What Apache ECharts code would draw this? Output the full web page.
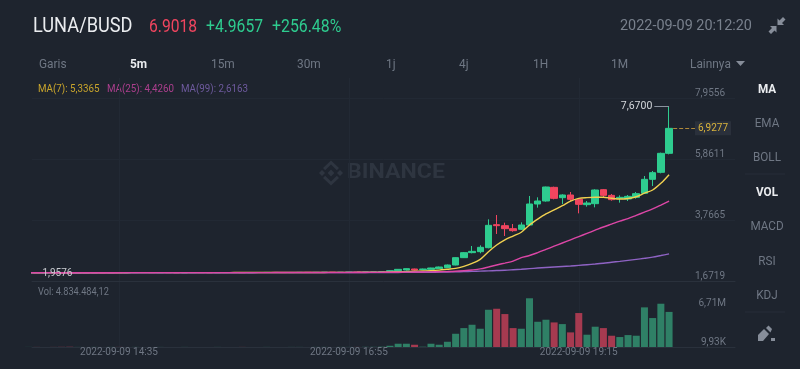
<!DOCTYPE html>
<html>
<head>
<meta charset="utf-8">
<style>
  html, body { margin: 0; padding: 0; background: #1e242e; }
  #chart { width: 800px; height: 369px; }
</style>
<script src="https://cdn.jsdelivr.net/npm/echarts@6/dist/echarts.min.js"></script>
</head>
<body>
<div id="chart"></div>
<script>
// 5 minute candles, 13:40 .. 20:10
var times = ['13:40','13:45','13:50','13:55','14:00','14:05','14:10','14:15','14:20','14:25','14:30','14:35','14:40','14:45','14:50','14:55','15:00','15:05','15:10','15:15','15:20','15:25','15:30','15:35','15:40','15:45','15:50','15:55','16:00','16:05','16:10','16:15','16:20','16:25','16:30','16:35','16:40','16:45','16:50','16:55','17:00','17:05','17:10','17:15','17:20','17:25','17:30','17:35','17:40','17:45','17:50','17:55','18:00','18:05','18:10','18:15','18:20','18:25','18:30','18:35','18:40','18:45','18:50','18:55','19:00','19:05','19:10','19:15','19:20','19:25','19:30','19:35','19:40','19:45','19:50','19:55','20:00','20:05','20:10'];
var dateLabel = '2022-09-09';

var opens = [1.969,1.971,1.968,1.972,1.966,1.964,1.961,1.966,1.970,1.973,1.971,1.974,1.972,1.975,1.978,1.976,1.973,1.975,1.972,1.970,1.973,1.976,1.974,1.972,1.975,1.977,1.975,1.973,1.976,1.978,1.980,1.977,1.975,1.978,1.981,1.979,1.982,1.984,1.981,1.985,1.988,1.986,1.990,1.994,
  2.017,2.040,2.063,2.098,2.080,2.086,2.109,2.144,2.235,2.487,2.659,2.693,2.830,3.620,3.586,3.483,3.460,3.609,4.330,4.433,4.902,4.547,4.639,4.490,4.307,4.341,4.822,4.627,4.524,4.501,4.559,4.696,5.177,5.417,6.070];
var closes = [1.971,1.968,1.972,1.966,1.964,1.961,1.966,1.970,1.973,1.971,1.974,1.972,1.975,1.978,1.976,1.973,1.975,1.972,1.970,1.973,1.976,1.974,1.972,1.975,1.977,1.975,1.973,1.976,1.978,1.980,1.977,1.975,1.978,1.981,1.979,1.982,1.984,1.981,1.985,1.988,1.986,1.990,1.994,2.002,
  2.040,2.086,2.109,2.063,2.098,2.132,2.166,2.235,2.487,2.659,2.704,2.842,3.597,3.586,3.483,3.414,3.609,4.330,4.433,4.914,4.524,4.639,4.490,4.318,4.364,4.811,4.627,4.479,4.559,4.593,4.685,5.177,5.406,6.070,6.9277];
var lows = [1.965,1.965,1.964,1.963,1.961,1.9576,1.959,1.963,1.967,1.968,1.968,1.970,1.970,1.972,1.973,1.971,1.970,1.970,1.968,1.968,1.970,1.971,1.970,1.970,1.973,1.973,1.971,1.971,1.974,1.976,1.975,1.973,1.973,1.976,1.977,1.977,1.980,1.979,1.979,1.983,1.984,1.984,1.987,1.991,
  2.010,2.030,2.050,2.050,2.070,2.080,2.100,2.135,2.224,2.475,2.636,2.636,2.807,3.300,3.231,3.380,3.437,3.574,4.204,4.410,4.490,4.330,4.433,4.009,4.238,4.215,4.536,4.444,4.376,4.433,4.513,4.673,4.948,5.383,6.035];
var highs = [1.976,1.975,1.976,1.975,1.970,1.968,1.970,1.974,1.978,1.977,1.979,1.978,1.980,1.983,1.981,1.979,1.979,1.977,1.975,1.978,1.981,1.979,1.977,1.980,1.982,1.980,1.978,1.981,1.983,1.985,1.983,1.980,1.983,1.986,1.984,1.987,1.989,1.987,1.990,1.993,1.991,1.995,1.999,2.008,
  2.050,2.095,2.120,2.110,2.110,2.140,2.180,2.250,2.498,2.682,2.888,2.911,3.803,3.952,3.689,3.643,3.700,4.605,4.559,4.925,4.925,4.662,4.742,4.536,4.433,4.834,4.845,4.673,4.627,4.639,4.742,5.291,5.463,6.093,7.670];
var volumes = [0.02,0.02,0.01,0.02,0.03,0.04,0.02,0.01,0.02,0.01,0.02,0.02,0.01,0.02,0.01,0.01,0.02,0.01,0.01,0.02,0.01,0.01,0.01,0.02,0.01,0.01,0.02,0.01,0.01,0.02,0.01,0.01,0.02,0.02,0.01,0.02,0.02,0.01,0.02,0.02,0.02,0.03,0.03,0.05,
  0.18,0.46,0.46,0.32,0.05,0.46,0.32,0.73,1.83,2.61,3.07,2.52,5.13,5.27,4.54,2.61,2.52,6.71,3.48,3.76,3.39,3.16,2.02,4.68,1.70,2.80,2.61,1.56,1.38,1.65,1.56,5.46,3.99,5.96,4.834484];

var ma7 = [1.970,1.970,1.969,1.968,1.967,1.966,1.966,1.966,1.967,1.968,1.969,1.970,1.971,1.973,1.974,1.974,1.974,1.974,1.974,1.974,1.974,1.974,1.974,1.974,1.974,1.975,1.975,1.975,1.975,1.976,1.976,1.976,1.977,1.978,1.978,1.979,1.980,1.981,1.982,1.983,1.984,1.986,1.988,1.992,
  1.998,2.004,2.010,2.020,2.030,2.040,2.060,2.090,2.120,2.190,2.290,2.430,2.690,2.920,3.100,3.230,3.360,3.610,3.810,3.990,4.130,4.270,4.430,4.525,4.550,4.560,4.560,4.525,4.500,4.520,4.580,4.700,4.810,5.040,5.3365];
var ma25 = [1.972,1.972,1.972,1.972,1.971,1.971,1.971,1.971,1.971,1.971,1.971,1.972,1.972,1.972,1.972,1.972,1.972,1.972,1.973,1.973,1.973,1.973,1.973,1.973,1.973,1.974,1.974,1.974,1.974,1.974,1.975,1.975,1.975,1.975,1.976,1.976,1.976,1.977,1.977,1.978,1.979,1.980,1.981,1.983,
  1.985,1.987,1.990,1.993,1.996,2.000,2.005,2.010,2.020,2.040,2.065,2.100,2.165,2.235,2.300,2.370,2.490,2.560,2.660,2.770,2.880,2.990,3.100,3.210,3.320,3.430,3.540,3.640,3.740,3.830,3.940,4.050,4.160,4.290,4.4260];
var ma99 = [1.968,1.968,1.968,1.968,1.968,1.968,1.968,1.968,1.969,1.969,1.969,1.969,1.969,1.969,1.969,1.970,1.970,1.970,1.970,1.970,1.970,1.970,1.970,1.971,1.971,1.971,1.971,1.971,1.972,1.972,1.972,1.972,1.972,1.973,1.973,1.973,1.973,1.974,1.974,1.975,1.975,1.976,1.976,1.977,
  1.978,1.980,1.982,1.984,1.985,1.987,1.990,1.995,2.000,2.007,2.015,2.025,2.035,2.045,2.055,2.072,2.090,2.110,2.130,2.148,2.165,2.182,2.200,2.222,2.245,2.268,2.295,2.330,2.360,2.395,2.430,2.465,2.505,2.560,2.6163];

var priceTicks = [1.6719, 3.7665, 5.8611, 7.9556];
var volumeTicks = [0.00993, 6.71];
var volumeTickLabels = ['9,93K', '6,71M'];
var timeTicks = [11, 39, 67];
var periods = ['Garis', '5m', '15m', '30m', '1j', '4j', '1H', '1M', 'Lainnya'];
var indicators = ['MA', 'EMA', 'BOLL', 'VOL', 'MACD', 'RSI', 'KDJ'];

var bg = '#1e242e', grey = '#6f7784', gridCol = '#222934';
var upCol = '#2ecc8f', downCol = '#f0455f';
var font = 'Roboto, sans-serif';
var last = times.length - 1;

function comma(v) { return v.toFixed(4).replace('.', ','); }

// sx squeezes the text, the original face is narrower than Roboto
function txt(x, y, text, color, size, opt) {
  opt = opt || {};
  return {
    type: 'text', x: x, y: y, scaleX: opt.sx || 1, silent: true,
    style: {
      text: text, fill: color,
      font: (opt.weight || 'normal') + ' ' + size + 'px ' + font,
      textAlign: opt.align || 'left', textVerticalAlign: 'middle'
    }
  };
}
function poly(points, color) {
  return { type: 'polygon', silent: true, shape: { points: points }, style: { fill: color } };
}
function hline(x1, x2, y, color) {
  return { type: 'line', silent: true, shape: { x1: x1, y1: y, x2: x2, y2: y }, style: { stroke: color, lineWidth: 1 } };
}
function diamond(cx, cy, r, color) {
  return poly([[cx, cy - r], [cx + r, cy], [cx, cy + r], [cx - r, cy]], color);
}

var candleData = [], volumeData = [], ma7Data = [], ma25Data = [], ma99Data = [];
for (var i = 0; i < times.length; i++) {
  candleData.push([i, opens[i], closes[i], lows[i], highs[i]]);
  volumeData.push({
    value: [i, volumes[i]],
    itemStyle: { color: closes[i] >= opens[i] ? '#2f8066' : '#a63a50' }
  });
  ma7Data.push([i, ma7[i]]);
  ma25Data.push([i, ma25[i]]);
  ma99Data.push([i, ma99[i]]);
}

// header, tabs, legend, side panel
var wm = '#2e3540', ic = '#868d99';
var deco = [
  // watermark
  diamond(331, 173, 3.4, wm), diamond(322, 173, 3, wm), diamond(340, 173, 3, wm),
  poly([[331, 160.5], [339, 168], [336.8, 170.2], [331, 164.6], [325.2, 170.2], [323, 168]], wm),
  poly([[331, 185.5], [339, 178], [336.8, 175.8], [331, 181.4], [325.2, 175.8], [323, 178]], wm),
  txt(347, 173, 'BINANCE', wm, 21, { weight: 'bold', sx: 1.1 }),
  // header
  txt(33, 27, 'LUNA/BUSD', '#eaecef', 20, { sx: 0.91 }),
  txt(149, 27, '6.9018', downCol, 18, { sx: 0.87 }),
  txt(206, 27, '+4.9657', upCol, 18, { sx: 0.87 }),
  txt(272, 27, '+256.48%', upCol, 18, { sx: 0.88 }),
  txt(620, 26, '2022-09-09 20:12:20', '#79818d', 15.5, { sx: 0.93 }),
  // compress icon
  poly([[777.5, 18.5], [779.5, 20.5], [783, 17], [785.5, 19.5], [782, 23], [784, 25], [777.5, 25]], ic),
  poly([[776.5, 32.5], [774.5, 30.5], [771, 34], [768.5, 31.5], [772, 28], [770, 26], [776.5, 26]], ic),
  // legend
  txt(38, 89, 'MA(7): ' + comma(ma7[last]), '#c9a52c', 11.5, { sx: 0.85 }),
  txt(107, 89, 'MA(25): ' + comma(ma25[last]), '#ad3f8e', 11.5, { sx: 0.85 }),
  txt(181, 89, 'MA(99): ' + comma(ma99[last]), '#6e5a9e', 11.5, { sx: 0.85 }),
  txt(38, 292, 'Vol: 4.834.484,12', grey, 11.5, { sx: 0.8 }),
  // dropdown triangle
  poly([[736, 61], [745, 61], [740.5, 66]], ic),
  // side panel separators
  hline(745, 785, 174, '#262d38'), hline(745, 785, 312, '#262d38'),
  // pencil icon
  poly([[758, 341], [758, 335], [764, 329], [769, 334], [763, 341]], ic),
  poly([[766, 328], [768.5, 325.5], [772, 329], [770.5, 332.5]], ic),
  poly([[771, 338], [775, 338], [775, 341], [771, 341]], ic)
];

var tabX = [39, 130, 211, 297, 386, 459, 533, 611, 690];
periods.forEach(function (p, k) {
  var active = p === '5m';
  deco.push(txt(tabX[k], 65, p, active ? '#eaecef' : grey, 13.5, { weight: active ? 'bold' : 'normal', sx: 0.88 }));
});
var sideY = [90, 124, 158, 193, 227, 262, 296];
indicators.forEach(function (p, k) {
  var active = p === 'MA' || p === 'VOL';
  deco.push(txt(767, sideY[k], p, active ? '#eaecef' : grey, 13, { align: 'center', weight: active ? 'bold' : 'normal', sx: 0.9 }));
});

var chart = echarts.init(document.getElementById('chart'));
chart.setOption({
  animation: false,
  backgroundColor: bg,
  graphic: { elements: deco },
  grid: [
    { left: 32, width: 703, top: 78, height: 203.4 },
    { left: 32, width: 703, top: 281.4, height: 65.6 }
  ],
  xAxis: [
    {
      type: 'value', gridIndex: 0, min: 0.4, max: 86.03,
      axisLine: { show: true, onZero: false, lineStyle: { color: '#2a313c' } },
      axisTick: { show: false, customValues: timeTicks },
      axisLabel: { show: false, customValues: timeTicks },
      splitLine: { show: true, lineStyle: { color: gridCol } }
    },
    {
      type: 'value', gridIndex: 1, min: 0.4, max: 86.03,
      axisLine: { show: true, onZero: false, lineStyle: { color: '#2a313c' } },
      axisTick: { show: false, customValues: timeTicks },
      axisLabel: {
        customValues: timeTicks, color: grey, fontSize: 10, fontFamily: font, margin: 0,
        formatter: function (v) { return dateLabel + ' ' + times[v]; }
      },
      splitLine: { show: true, lineStyle: { color: gridCol } }
    }
  ],
  yAxis: [
    {
      type: 'value', gridIndex: 0, position: 'right', min: 1.6719, max: 8.6567,
      axisLine: { show: false },
      axisTick: { show: false, customValues: priceTicks },
      axisLabel: {
        inside: true, margin: 10, customValues: priceTicks, color: grey, fontSize: 10,
        fontFamily: font, verticalAlign: 'bottom', formatter: comma
      },
      splitLine: { show: true, lineStyle: { color: gridCol } }
    },
    {
      type: 'value', gridIndex: 1, position: 'right', min: 0.00993, max: 9.03,
      axisLine: { show: false },
      axisTick: { show: false, customValues: volumeTicks },
      axisLabel: {
        inside: true, margin: 9, customValues: volumeTicks, color: grey, fontSize: 10,
        fontFamily: font, verticalAlign: 'top', verticalAlignMinLabel: 'bottom',
        formatter: function (v) { return volumeTickLabels[volumeTicks.indexOf(v)]; }
      },
      splitLine: { show: false }
    }
  ],
  series: [
    {
      type: 'candlestick', xAxisIndex: 0, yAxisIndex: 0, barWidth: 7,
      data: candleData,
      encode: { x: 0, y: [1, 2, 3, 4] },
      itemStyle: { color: upCol, color0: downCol, borderColor: upCol, borderColor0: downCol, borderWidth: 1 },
      markLine: {
        silent: true, symbol: 'none', animation: false,
        data: [
          [
            {
              coord: [last, highs[last]],
              lineStyle: { color: '#8a929e', type: 'solid', width: 1 },
              label: { show: true, position: 'end', distance: 2, formatter: comma(highs[last]), color: '#d5d8dc', fontSize: 10.5, fontFamily: font }
            },
            { coord: [last - 1.8, highs[last]] }
          ],
          [
            {
              coord: [last + 0.5, closes[last]],
              lineStyle: { color: '#b0893a', type: 'dashed', width: 1 },
              label: { show: false }
            },
            { coord: [last + 3.2, closes[last]] }
          ]
        ]
      },
      // labels need a symbol to hang on, so these are 1px and transparent
      markPoint: {
        silent: true, symbol: 'circle', symbolSize: 1, animation: false,
        itemStyle: { color: 'rgba(0,0,0,0)' },
        data: [
          {
            coord: [3.5, lows[5]],
            label: { show: true, position: 'inside', formatter: comma(lows[5]), color: '#c9ccd1', fontSize: 10, fontFamily: font }
          },
          {
            coord: [last + 5.35, closes[last]],
            label: {
              show: true, position: 'inside', formatter: comma(closes[last]), color: '#d9b43c', fontSize: 10,
              fontFamily: font, backgroundColor: '#2a303b', padding: [2, 3]
            }
          }
        ]
      }
    },
    { type: 'line', name: 'MA(7)', xAxisIndex: 0, yAxisIndex: 0, data: ma7Data, showSymbol: false, smooth: 0.3, lineStyle: { color: '#f0d050', width: 1.4 } },
    { type: 'line', name: 'MA(99)', xAxisIndex: 0, yAxisIndex: 0, data: ma99Data, showSymbol: false, smooth: 0.3, lineStyle: { color: '#8f63c4', width: 1.4 } },
    { type: 'line', name: 'MA(25)', xAxisIndex: 0, yAxisIndex: 0, data: ma25Data, showSymbol: false, smooth: 0.3, lineStyle: { color: '#dc46a6', width: 1.4 } },
    { type: 'bar', name: 'Vol', xAxisIndex: 1, yAxisIndex: 1, barWidth: 7, data: volumeData }
  ]
});
</script>
</body>
</html>
